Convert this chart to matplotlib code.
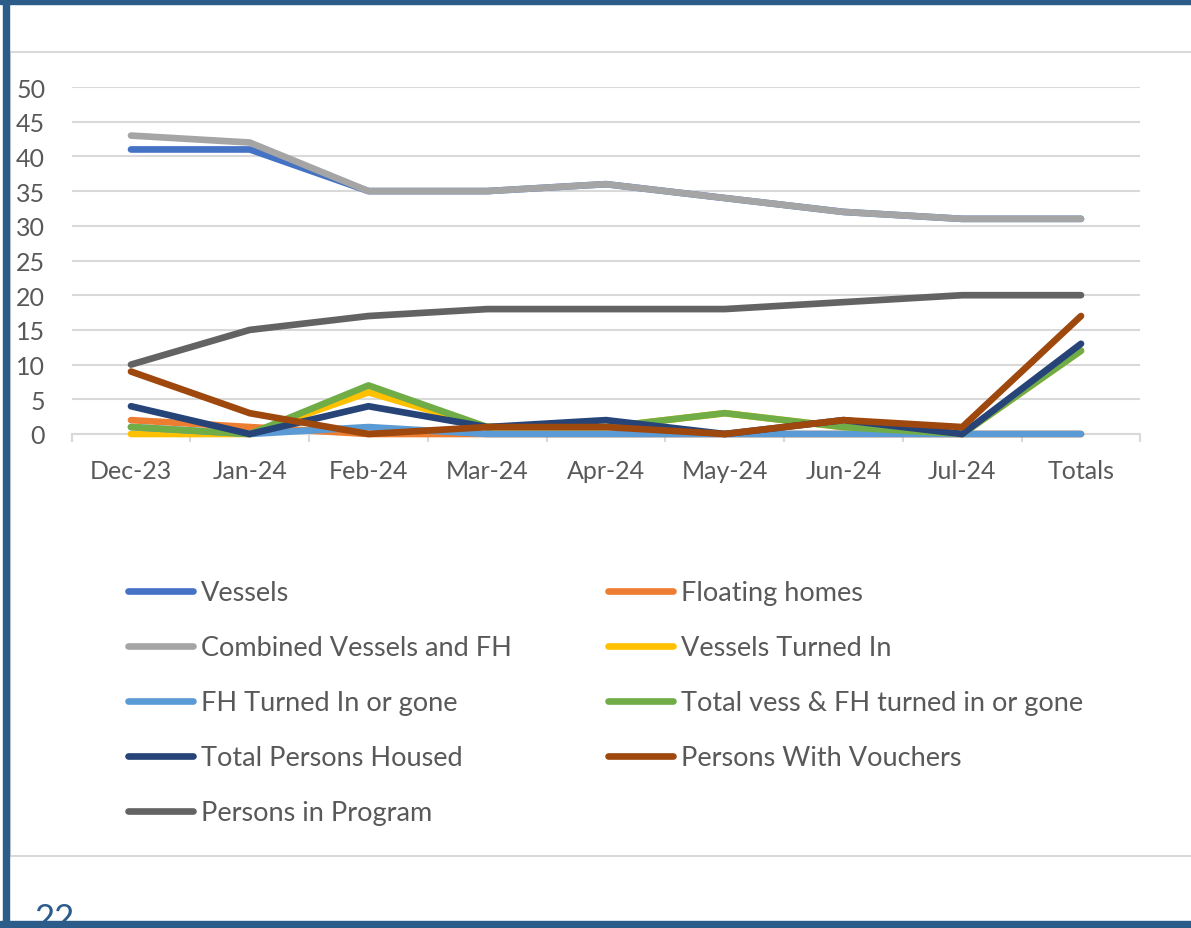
#!/usr/bin/env python3

import numpy as np
import matplotlib
matplotlib.use("Agg")
import matplotlib.pyplot as plt
from matplotlib.patches import Rectangle
from matplotlib.lines import Line2D

plt.rcParams['font.family'] = ['Lato', 'DejaVu Sans']

months = ["Dec-23", "Jan-24", "Feb-24", "Mar-24", "Apr-24", "May-24", "Jun-24", "Jul-24", "Totals"]

vessels = [41, 41, 35, 35, 36, 34, 32, 31, 31]
floating_homes = [2, 1, 0, 0, 0, 0, 0, 0, 0]
combined = [43, 42, 35, 35, 36, 34, 32, 31, 31]
vessels_turned_in = [0, 0, 6, 1, 1, 3, 1, 0, 12]
fh_turned_in = [1, 0, 1, 0, 0, 0, 0, 0, 0]
total_turned_in = [1, 0, 7, 1, 1, 3, 1, 0, 12]
persons_housed = [4, 0, 4, 1, 2, 0, 2, 0, 13]
persons_vouchers = [9, 3, 0, 1, 1, 0, 2, 1, 17]
persons_program = [10, 15, 17, 18, 18, 18, 19, 20, 20]

series = [
    ("Vessels", vessels, "#4472C4"),
    ("Floating homes", floating_homes, "#ED7D31"),
    ("Combined Vessels and FH", combined, "#A5A5A5"),
    ("Vessels Turned In", vessels_turned_in, "#FFC000"),
    ("FH Turned In or gone", fh_turned_in, "#5B9BD5"),
    ("Total vess & FH turned in or gone", total_turned_in, "#70AD47"),
    ("Total Persons Housed", persons_housed, "#264478"),
    ("Persons With Vouchers", persons_vouchers, "#9E480E"),
    ("Persons in Program", persons_program, "#636363"),
]

W, H = 1191, 929
fig = plt.figure(figsize=(W / 100, H / 100), dpi=100)

def fx(x):
    return x / W

def fy(y):
    return 1 - y / H

txt = "#595959"
grid = "#D9D9D9"
blue = "#2B5C8A"
fs = 18
leg_fs = 19.5

# chart frame
fig.patches.append(Rectangle((fx(10), fy(857)), fx(1200) - fx(10), fy(53) - fy(857),
                             transform=fig.transFigure, fill=False, edgecolor=grid, lw=1.5, zorder=1))

ax = fig.add_axes([fx(71.6), fy(435), fx(1140.4) - fx(71.6), fy(88) - fy(435)])
x = np.arange(len(months))
for name, vals, col in series:
    ax.plot(x, vals, color=col, lw=4.8, solid_capstyle='round', solid_joinstyle='round',
            label=name, clip_on=False, zorder=3)

ax.set_xlim(-0.5, len(months) - 0.5)
ax.set_ylim(0, 50)
ax.set_yticks(range(0, 51, 5))
ax.yaxis.grid(True, color=grid, lw=1.5)
ax.set_axisbelow(True)
for s in ["top", "right", "left"]:
    ax.spines[s].set_visible(False)
ax.spines["bottom"].set_color(grid)
ax.spines["bottom"].set_linewidth(1.5)
ax.set_xticks(x)
ax.set_xticklabels(months)
ax.set_xticks(np.arange(-0.5, len(months)), minor=True)
ax.tick_params(axis='x', which='major', length=0, pad=18, labelsize=fs, labelcolor=txt)
ax.tick_params(axis='x', which='minor', length=6, width=1.5, color=grid)
ax.tick_params(axis='y', length=0, pad=19, labelsize=fs, labelcolor=txt)

# legend in two columns, Excel row-wise order
handles = [Line2D([], [], color=c, lw=4.8, solid_capstyle='round') for _, _, c in series]
labels = [n for n, _, _ in series]
leg_kw = dict(loc='upper left', frameon=False, borderpad=0, borderaxespad=0,
              handlelength=2.4, handletextpad=0.3, labelspacing=1.11, fontsize=leg_fs,
              labelcolor=txt, bbox_transform=fig.transFigure)
leg1 = fig.legend([handles[i] for i in range(0, 9, 2)], [labels[i] for i in range(0, 9, 2)],
                  bbox_to_anchor=(fx(128), fy(581)), **leg_kw)
leg2 = fig.legend([handles[i] for i in range(1, 9, 2)], [labels[i] for i in range(1, 9, 2)],
                  bbox_to_anchor=(fx(608), fy(581)), **leg_kw)

# page number cut off by the border
fig.text(fx(34), fy(903), "22", color=blue, fontsize=25, va='top', ha='left', zorder=5)

# outer blue border
fig.patches.append(Rectangle((fx(0), fy(5)), 1, fy(0) - fy(5), transform=fig.transFigure,
                             color=blue, zorder=10))
fig.patches.append(Rectangle((fx(0), fy(929)), 1, fy(922) - fy(929), transform=fig.transFigure,
                             color=blue, zorder=10))
fig.patches.append(Rectangle((fx(3), 0), fx(6), 1, transform=fig.transFigure,
                             color=blue, zorder=10))

fig.savefig("out.png", dpi=100)
plt.close(fig)
